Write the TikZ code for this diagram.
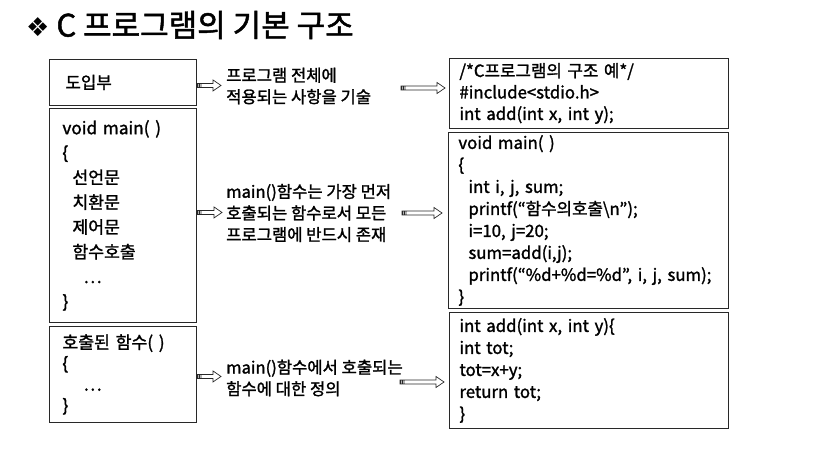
\documentclass[tikz,border=0pt]{standalone}
\usepackage{fontspec}
\setmainfont{Noto Sans CJK KR}[RawFeature={embolden=1.5}]
\newfontfamily\symfont{DejaVu Sans}
\usetikzlibrary{calc,positioning}
\definecolor{boxline}{RGB}{40,40,40}

\tikzset{
  codebox/.style={draw=boxline, line width=0.9pt, anchor=north west, align=left,
    inner xsep=10pt, inner ysep=0pt, font=\fontsize{16.8}{22}\selectfont},
  desc/.style={anchor=west, align=left, inner sep=0pt,
    font=\fontsize{16.6}{21.5}\selectfont},
  blockarrow/.style={draw=boxline, line width=0.7pt, to path={
    let \p1=(\tikztostart), \p2=(\tikztotarget) in
    (\x1,\y1+2pt) -- (\x2-8pt,\y1+2pt) -- (\x2-8pt,\y1+5.5pt) -- (\x2,\y1)
    -- (\x2-8pt,\y1-5.5pt) -- (\x2-8pt,\y1-2pt) -- (\x1,\y1-2pt) -- cycle
    (\x1+1pt,\y1-2pt) -- (\x1+1pt,\y1+2pt)
    (\x1+2.5pt,\y1-2pt) -- (\x1+2.5pt,\y1+2pt)
    (\x1+4pt,\y1-2pt) -- (\x1+4pt,\y1+2pt)}}
}

\begin{document}
\begin{tikzpicture}[x=1pt,y=-1pt]
\useasboundingbox (0,0) rectangle (813,468);

% title
\node[anchor=west, inner sep=0pt, font=\fontsize{31}{34}\selectfont] (title) at (26,25)
  {{\symfont\fontsize{26}{30}\selectfont ❖} C 프로그램의 기본 구조};

% left column
\node[codebox, minimum width=147pt, minimum height=46pt, inner xsep=16pt,
  text width=115pt] (intro) at (49,59) {도입부};
\node[codebox, minimum width=147pt, minimum height=214pt, inner xsep=13pt,
  text width=121pt, font=\fontsize{17.2}{24.8}\selectfont] (mainsk) at (49,108) {%
  void main( )\\
  \{\\
  \hspace{10pt}선언문\\
  \hspace{10pt}치환문\\
  \hspace{10pt}제어문\\
  \hspace{10pt}함수호출\\
  \hspace{21pt}…\\
  \}};
\node[codebox, minimum width=147pt, minimum height=96pt, inner xsep=13pt,
  text width=121pt, font=\fontsize{17.2}{21}\selectfont] (calledsk) at (49,326) {%
  호출된 함수( )\\
  \{\\
  \hspace{21pt}…\\
  \}};

% right column
\node[codebox, minimum width=279pt, minimum height=70pt, text width=259pt,
  font=\fontsize{16.8}{21.5}\selectfont] (headcode) at (449,58) {%
  /*C프로그램의 구조 예*/\\
  \#include<stdio.h>\\
  int add(int x, int y);};
\node[codebox, minimum width=280pt, minimum height=176pt, text width=260pt] (maincode) at (448,132) {%
  void main( )\\
  \{\\
  \hspace{10pt}int i, j, sum;\\
  \hspace{10pt}printf(“함수의호출\textbackslash n”);\\
  \hspace{10pt}i=10, j=20;\\
  \hspace{10pt}sum=add(i,j);\\
  \mbox{\hspace{10pt}printf(“\%d+\%d=\%d”, i, j, sum);}\\
  \}};
\node[codebox, minimum width=279pt, minimum height=116pt, text width=259pt] (addcode) at (449,312) {%
  int add(int x, int y)\{\\
  int tot;\\
  tot=x+y;\\
  return tot;\\
  \}};

% descriptions
\node[desc] (introdesc) at (226,86) {프로그램 전체에\\적용되는 사항을 기술};
\node[desc] (maindesc) at (226,213) {main()함수는 가장 먼저\\호출되는 함수로서 모든\\프로그램에 반드시 존재};
\node[desc] (calleddesc) at (226,378) {main()함수에서 호출되는\\함수에 대한 정의};

% arrows
\draw[blockarrow] ([yshift=-3pt]intro.east) to ([xshift=-5pt]introdesc.west);
\draw[blockarrow] ([xshift=175pt,yshift=-2pt]introdesc.west) to ([xshift=-4pt]headcode.west);
\draw[blockarrow] ([yshift=3pt]mainsk.east) to ([xshift=-4pt]maindesc.west);
\draw[blockarrow] ([xshift=176pt]maindesc.west) to ([xshift=-6pt]maincode.west);
\draw[blockarrow] ([yshift=-2pt]calledsk.east) to ([xshift=-5pt]calleddesc.west);
\draw[blockarrow] ([xshift=174pt,yshift=-4pt]calleddesc.west) to ([xshift=-5pt]addcode.west);
\end{tikzpicture}
\end{document}
